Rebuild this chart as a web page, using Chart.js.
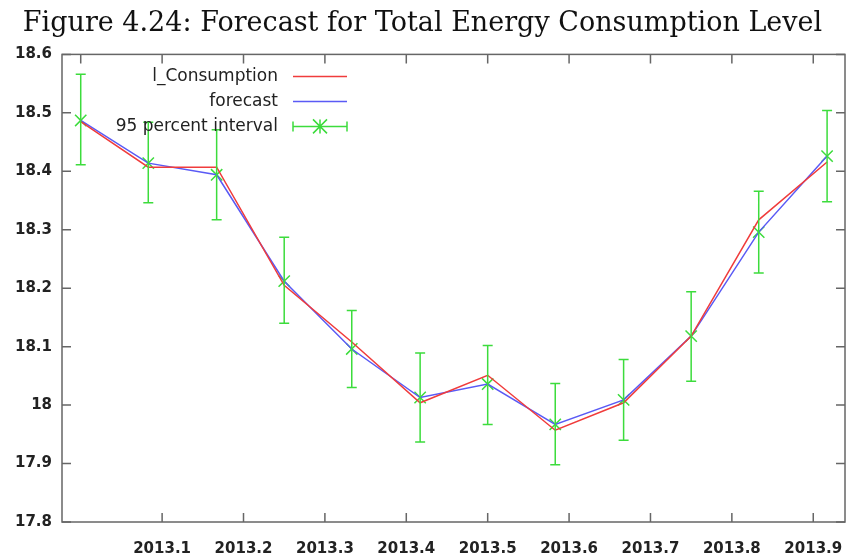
<!DOCTYPE html>
<html>
<head>
<meta charset="utf-8">
<script src="https://cdn.jsdelivr.net/npm/chart.js@4.4.1/dist/chart.umd.min.js"></script>
<style>
  html, body { margin: 0; padding: 0; background: #fff; }
  #wrap { width: 847px; height: 558px; }
</style>
</head>
<body>
<div id="wrap"><canvas id="myChart" width="847" height="558"></canvas></div>
<script>
// monthly observations for 2013 (x in fractional years)
const months = [2013.000, 2013.083, 2013.167, 2013.250, 2013.333, 2013.417,
                2013.500, 2013.583, 2013.667, 2013.750, 2013.833, 2013.917];
const consumption = [18.485, 18.407, 18.407, 18.205, 18.108, 18.004,
                     18.051, 17.957, 18.004, 18.118, 18.317, 18.416];
const forecast = [18.487, 18.414, 18.394, 18.212, 18.096, 18.013,
                  18.036, 17.967, 18.009, 18.118, 18.296, 18.426];
const lower = [18.411, 18.346, 18.317, 18.140, 18.030, 17.937,
               17.967, 17.898, 17.940, 18.041, 18.226, 18.348];
const upper = [18.566, 18.484, 18.471, 18.287, 18.162, 18.089,
               18.102, 18.037, 18.078, 18.194, 18.366, 18.504];
const xTicks = [2013.1, 2013.2, 2013.3, 2013.4, 2013.5, 2013.6, 2013.7, 2013.8, 2013.9];
const xTicksTop = [2013.0, 2013.1, 2013.2, 2013.3, 2013.4, 2013.5, 2013.6, 2013.7, 2013.8, 2013.9];
const yTicks = [17.8, 17.9, 18.0, 18.1, 18.2, 18.3, 18.4, 18.5, 18.6];
const legendLabels = ['l_Consumption', 'forecast', '95 percent interval'];

const RED = '#f03c3c';
const BLUE = '#5a5af5';
const GREEN = '#3cdc3c';
const FRAME = '#666';

function pts(ys) {
  return months.map((m, i) => ({ x: m, y: ys[i] }));
}

// gnuplot style frame with inward ticks on all four sides
const framePlugin = {
  id: 'frame',
  afterDraw(chart) {
    const { ctx, chartArea: a, scales } = chart;
    const len = 9;
    ctx.save();
    ctx.strokeStyle = FRAME;
    ctx.lineWidth = 1.5;
    ctx.strokeRect(a.left, a.top, a.right - a.left, a.bottom - a.top);
    ctx.beginPath();
    xTicks.forEach(v => {
      const px = scales.x.getPixelForValue(v);
      ctx.moveTo(px, a.bottom); ctx.lineTo(px, a.bottom - len);
    });
    xTicksTop.forEach(v => {
      const px = scales.x.getPixelForValue(v);
      ctx.moveTo(px, a.top); ctx.lineTo(px, a.top + len);
    });
    yTicks.forEach(v => {
      const py = scales.y.getPixelForValue(v);
      ctx.moveTo(a.left, py); ctx.lineTo(a.left + len, py);
      ctx.moveTo(a.right, py); ctx.lineTo(a.right - len, py);
    });
    ctx.stroke();
    ctx.restore();
  }
};

// vertical error bars with small caps
const errorBarPlugin = {
  id: 'errorBars',
  afterDatasetsDraw(chart) {
    const { ctx, scales } = chart;
    const cap = 5;
    ctx.save();
    ctx.strokeStyle = GREEN;
    ctx.lineWidth = 1.5;
    ctx.beginPath();
    months.forEach((m, i) => {
      const px = scales.x.getPixelForValue(m);
      const lo = scales.y.getPixelForValue(lower[i]);
      const hi = scales.y.getPixelForValue(upper[i]);
      ctx.moveTo(px, lo); ctx.lineTo(px, hi);
      ctx.moveTo(px - cap, lo); ctx.lineTo(px + cap, lo);
      ctx.moveTo(px - cap, hi); ctx.lineTo(px + cap, hi);
    });
    ctx.stroke();
    ctx.restore();
  }
};

// key in the top left corner, text right-aligned before the sample
const keyPlugin = {
  id: 'key',
  afterDraw(chart) {
    const { ctx, chartArea: a } = chart;
    const textRight = a.left + 216;
    const x0 = a.left + 231, x1 = a.left + 285;
    const rows = [a.top + 22, a.top + 47, a.top + 72];
    ctx.save();
    ctx.font = '17px "DejaVu Sans"';
    ctx.fillStyle = '#222';
    ctx.textAlign = 'right';
    ctx.textBaseline = 'middle';
    legendLabels.forEach((t, i) => ctx.fillText(t, textRight, rows[i]));
    ctx.lineWidth = 1.5;
    [RED, BLUE, GREEN].forEach((c, i) => {
      ctx.strokeStyle = c;
      ctx.beginPath();
      ctx.moveTo(x0, rows[i]); ctx.lineTo(x1, rows[i]);
      ctx.stroke();
    });
    // caps and star on the interval sample
    const y = rows[2], xm = (x0 + x1) / 2, r = 7;
    ctx.strokeStyle = GREEN;
    ctx.beginPath();
    ctx.moveTo(x0, y - 5); ctx.lineTo(x0, y + 5);
    ctx.moveTo(x1, y - 5); ctx.lineTo(x1, y + 5);
    ctx.moveTo(xm - r, y - r); ctx.lineTo(xm + r, y + r);
    ctx.moveTo(xm - r, y + r); ctx.lineTo(xm + r, y - r);
    ctx.moveTo(xm, y - r); ctx.lineTo(xm, y + r);
    ctx.stroke();
    ctx.restore();
  }
};

// keep the plot frame fixed: no extra room for edge labels
function noEdgePadding(s) {
  s.paddingLeft = 0; s.paddingRight = 0; s.paddingTop = 0; s.paddingBottom = 0;
}

const ctx = document.getElementById('myChart').getContext('2d');
const myChart = new Chart(ctx, {
  type: 'line',
  data: {
    datasets: [{
      label: legendLabels[0],
      data: pts(consumption),
      borderColor: RED,
      borderWidth: 1.5,
      pointRadius: 0,
      tension: 0
    },
    {
      label: legendLabels[1],
      data: pts(forecast),
      borderColor: BLUE,
      borderWidth: 1.5,
      pointRadius: 0,
      tension: 0
    },
    {
      label: legendLabels[2],
      data: pts(forecast),
      showLine: false,
      borderColor: GREEN,
      backgroundColor: GREEN,
      pointStyle: 'crossRot',
      pointRadius: 8,
      pointBorderWidth: 1.5
    }]
  },
  options: {
    responsive: false,
    animation: false,
    layout: { autoPadding: false, padding: { left: 0, right: 2, top: 0, bottom: 0 } },
    plugins: {
      legend: { display: false },
      tooltip: { enabled: false },
      title: {
        display: true,
        text: 'Figure 4.24: Forecast for Total Energy Consumption Level',
        color: '#111',
        font: { family: '"DejaVu Serif"', size: 27, weight: 'normal', lineHeight: 1.2 },
        padding: { top: 8, bottom: 14 }
      }
    },
    scales: {
      x: {
        type: 'linear',
        min: 2012.977,
        max: 2013.939,
        grid: { display: false, drawTicks: false },
        border: { display: false },
        afterBuildTicks: s => { s.ticks = xTicks.map(v => ({ value: v })); },
        afterFit: s => { s.height = 36; noEdgePadding(s); },
        ticks: {
          padding: 18,
          color: '#222',
          font: { family: '"DejaVu Sans"', size: 15, weight: 'bold' },
          callback: v => v.toFixed(1)
        }
      },
      y: {
        min: 17.8,
        max: 18.6,
        grid: { display: false, drawTicks: false },
        border: { display: false },
        afterBuildTicks: s => { s.ticks = yTicks.map(v => ({ value: v })); },
        afterFit: s => { s.width = 62; noEdgePadding(s); },
        ticks: {
          padding: 10,
          color: '#222',
          font: { family: '"DejaVu Sans"', size: 15, weight: 'bold' },
          callback: v => String(Number(v.toFixed(1)))
        }
      }
    }
  },
  plugins: [framePlugin, errorBarPlugin, keyPlugin]
});
</script>
</body>
</html>
